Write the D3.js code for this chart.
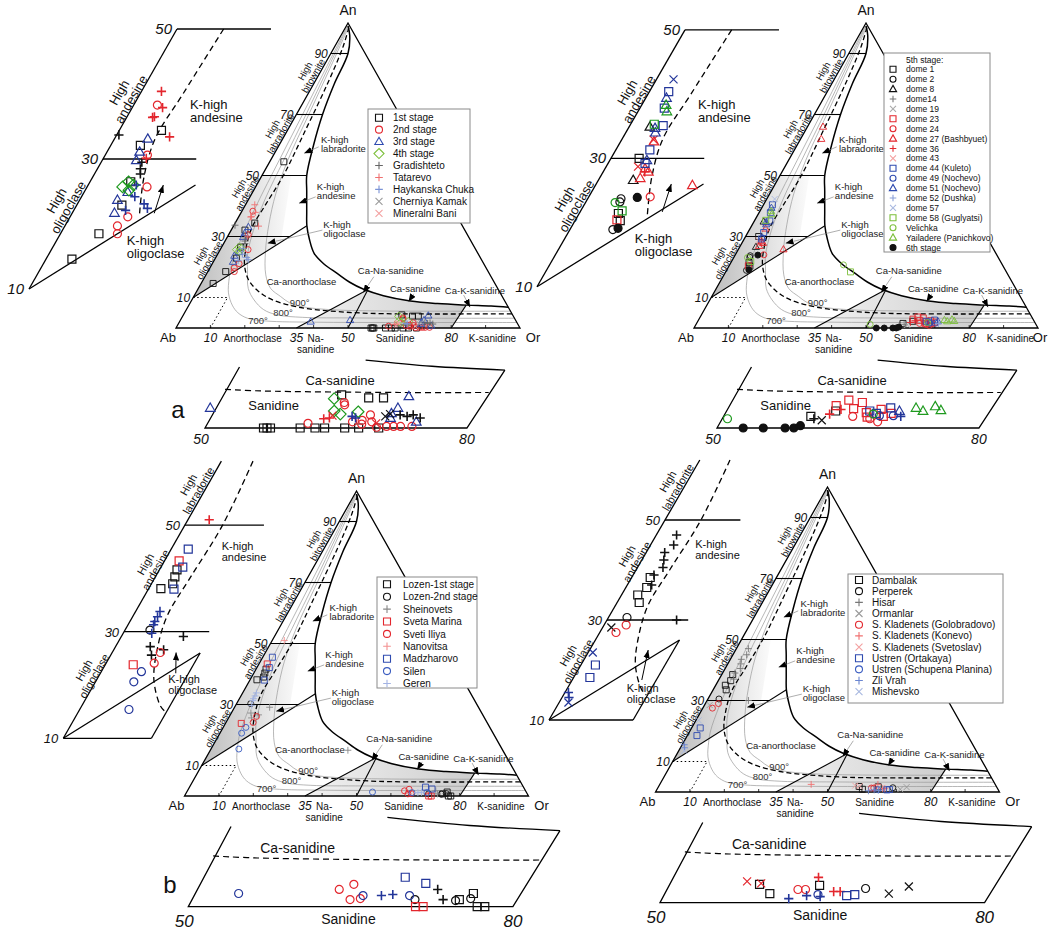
<!DOCTYPE html>
<html>
<head>
<meta charset="utf-8">
<script src="https://cdn.jsdelivr.net/npm/d3@7"></script>
<style>
  body { margin: 0; background: #fff; }
  svg text { font-family: Arial, "Liberation Sans", Helvetica, sans-serif; }
</style>
</head>
<body>
<svg id="chart" width="1048" height="930"></svg>
<script>
// all compositions are [Or, An] in mol %

// ---- diagram boundaries
var solvus = [[0.5,99],[2.5,96],[5,90],[6,80],[7.6,70],[10,60],[13,50],[15.5,45],[19,38],[21.3,33.5],[24.3,29],[27.9,24.5],[32.5,21],[37.9,17.9],[43,15],[48.2,12.7],[55,10.6],[63.7,8.85],[72,8],[80.8,7.5],[88,7.2],[93.2,6.8]];
var caLine = [[1,98.5],[2.5,92],[4,80],[5.2,65],[6.2,50],[5.8,40],[5.6,33],[7,27],[9.4,21],[13,16],[18,12],[24,9],[34,6.5],[44,5.4],[54,4.8],[70,4.6],[83,4.6],[95.4,4.6]];
var iso700 = [[0.3,99],[1,85],[1.8,70],[2.5,55],[3.3,40],[4.5,28],[6,20],[7.3,16.3],[9.5,11.5],[12.6,7.5],[15.5,5],[19.2,3.2],[25,2.3],[40,1.9],[60,1.8],[80,1.8],[98.2,1.8]];
var iso800 = [[0.5,99],[1.6,85],[2.8,70],[3.8,55],[4.8,42],[6.5,32],[8.8,24],[11.3,19],[14.5,13],[18.1,9.2],[22.5,6],[27.3,4.3],[35,3.5],[50,3.3],[70,3.2],[96.8,3.2]];
var iso900 = [[0.8,99],[2.2,85],[3.6,70],[5,55],[7,44],[10,34],[13.5,25],[17.4,17.4],[21,13],[25.3,10.3],[29,8.2],[33.7,6.9],[42,6],[55,5.6],[75,5.5],[94.5,5.5]];
var kOligLine = [[0,10],[21.3,33.5]];
var anLines = [[[0,90],[5,90]],[[0,70],[7.6,70]],[[0,50],[13,50]],[[0,30],[18.1,30]]];
var orLines = [[[35,0],[49.5,12.6]],[[50,0],[49.5,12.6]],[[80,0],[80.6,7.5]]];
var abCorner = [[0,10],[10,10],[10,0]];
var plagShade = [[0,10],[0,50],[8.5,50],[16.4,28.1]];
var sanShade = [[35,0],[49.5,12.6],[55,10.6],[63.7,8.85],[72,8],[80.6,7.5],[80,0]];
var insetSolvus = [[64,8.8],[72,8],[80.6,7.5]];
var insetCaLine = [[49.8,5.0],[54,4.8],[70,4.6],[80.2,4.6]];

// ---- tick labels and field names
var anTicks = [10,30,50,70,90];
var orTicks = [10,35,50,80];
var baseTicks = [10,20,30,40,50,60,70,80,90];
var baseNames = ["Anorthoclase","Na-|sanidine","Sanidine","K-sanidine"];
var edgeNames = ["High|oligoclase","High|andesine","High|labradorite","High|bitownite"];
var fieldNames = ["K-high|labradorite","K-high|andesine","K-high|oligoclase","Ca-anorthoclase","Ca-Na-sanidine","Ca-sanidine","Ca-K-sanidine"];
var isoNames = ["700°","800°","900°"];

// ---- panel a, left
var aLeftNames = ["1st stage","2nd stage","3rd stage","4th stage","Gradishteto","Tatarevo","Haykanska Chuka","Cherniya Kamak","Mineralni Bani"];
var aLeft1st = [[5.7,34.4],[4.0,32.1],[5.5,26.5],[6.1,22.9],[5.2,18.5],[3.5,14.6],[4.1,54.5],[56.7,0],[57.1,0],[57.5,0],[60.9,0],[62.6,0],[63.7,0],[66.0,0],[67.6,0],[69.9,0],[63.5,4.3],[66.8,3.9],[68.5,3.9]];
var aLeft2nd = [[3.2,38.3],[5.7,30.6],[8.1,25.7],[7.8,21.1],[7.1,19.7],[7.7,18.5],[61.5,0.6],[64.5,3.0],[64.3,3.3],[67.5,1.0],[68.1,1.7],[68.7,0.8],[70.7,0.2],[71.5,0.2],[72.3,0.2],[73.6,0.2],[67.7,0.5],[69.6,0.1],[66.5,0.8]];
var aLeft3rd = [[4.5,33.1],[4.4,31.1],[4.6,29.8],[5.9,24.9],[5.1,23.7],[5.7,21.7],[38.1,2.1],[49.3,2.6],[71.3,4.1],[70.4,1.9],[70.8,2.6],[73.8,0.8],[70.6,1.3]];
var aLeft4th = [[5.2,26.5],[4.8,25.7],[5.9,25.2],[6.1,26.0],[62.9,3.8],[63.7,2.2],[64.6,1.8],[66.5,2.1]];
var aLeftGrad = [[0.3,33.7],[5.5,29.5],[5.8,28.5],[6.2,27.7],[71.5,1.7],[72.4,1.5],[73.0,1.7],[74.0,1.3]];
var aLeftTat = [[2.7,40.4],[4.1,37.9],[3.7,36.5],[3.5,36.4],[7.3,33.4],[5.8,30.1],[63.0,1.2],[63.6,1.3]];
var aLeftHay = [[7.2,24.2],[7.0,22.1],[9.0,23.1],[9.8,22.4],[6.5,26.0],[66.1,1.5],[66.6,1.3]];
var aLeftChe = [[69.9,1.5],[70.3,1.8]];
var aLeftMin = [[63.8,1.6],[69.3,0.6]];

// ---- panel a, right
var aRightNames = ["dome 1","dome 2","dome 8","dome14","dome 19","dome 23","dome 24","dome 27 (Bashbyuet)","dome 36","dome 43","dome 44 (Kuleto)","dome 49 (Nochevo)","dome 51 (Nochevo)","dome 52 (Dushka)","dome 57","dome 58 (Guglyatsi)","Velichka","Yailadere (Panichkovo)","6th stage"];
var aRightD1 = [[3.8,30.0],[5.3,21.4],[6.1,20.3],[60,1.5],[62.5,2.2]];
var aRightD2 = [[4.6,23.2],[4.5,23.7],[5.8,18.9]];
var aRightD8 = [[2.8,34.9],[4.7,26.6]];
var aRightD14 = [[60.5,1.2]];
var aRightD19 = [[61.5,1.0]];
var aRightD23 = [[5.6,20.4],[62.2,2.9],[63.3,3.6],[64.4,2.5],[65.0,3.3],[66.1,2.0],[66.5,1.4],[67.6,2.4],[68.3,1.5],[69.0,1.9]];
var aRightD24 = [[8.3,24.0],[64.8,1.5],[66.9,1.2],[68.0,0.8]];
var aRightD27 = [[4.5,32.6],[5.4,28.4],[6.1,27.9],[5.5,26.9],[13.1,25.8],[4.5,66],[6,62]];
var aRightD36 = [[5.6,27.9],[62.0,1.8],[63.0,2.4]];
var aRightD43 = [[4.3,32.9],[4.3,28.7]];
var aRightD44 = [[2.6,40.4],[3.3,37.8],[4.5,35.1],[4.6,31.3],[5.0,29.2],[66.4,2.2],[67.3,1.9],[68.6,2.6]];
var aRightD49 = [[67.8,1.6],[69.4,1.6]];
var aRightD51 = [[2.8,39.4],[3.6,34.7],[4.0,34.0],[5.0,29.7],[69.8,2.2]];
var aRightD52 = [[70.3,1.5]];
var aRightD57 = [[2.3,42.3]];
var aRightD58 = [[3.2,35.3],[5.6,21.8],[36.3,18.4]];
var aRightVel = [[4.0,23.1],[33.1,20.7],[50.6,1.2],[67.0,1.8]];
var aRightYai = [[3.3,38.3],[3.9,37.3],[71.5,2.6],[72.5,2.2],[73.6,2.8],[74.5,2.3]];
var aRight6th = [[6.6,23.9],[6.4,19.1],[53,0],[55.3,0],[57.8,0],[58.8,0],[59.4,0.3]];

// ---- panel b, left
var bLeftNames = ["Lozen-1st stage","Lozen-2nd stage","Sheinovets","Sveta Marina","Sveti Iliya","Nanovitsa","Madzharovo","Silen","Geren"];
var bLeftLoz1 = [[2.9,41.6],[3.2,40.3],[3.5,39.0],[2.0,38.1],[74.7,0.7],[75.7,1.3],[76.7,0],[77.4,0]];
var bLeftLoz2 = [[4.1,30.3],[70.6,0.7],[74.4,0.6],[75.7,0.8]];
var bLeftShe = [[10.2,29.1],[5.7,27.2],[6.7,25.6],[8.2,26.6],[72.2,1.7],[73.2,0.7],[40,15]];
var bLeftMar = [[2.4,43.3],[4.6,23.8],[71.0,0],[71.7,0]];
var bLeftIli = [[7.9,26.1],[7.9,24.1],[63.1,1.7],[64.2,2.2],[64.6,0.7],[65.5,0.8]];
var bLeftNan = [[3.5,51]];
var bLeftMad = [[2.8,45.5],[3.6,42.1],[4.2,38.0],[68.6,2.9],[70.8,2.3]];
var bLeftSil = [[6.6,22.5],[6.3,20.6],[8.1,15.4],[54.0,1.3],[65.6,1.1],[69.9,1.1]];
var bLeftGer = [[4.0,33.8],[4.1,32.8],[4.1,31.9],[4.2,31.3],[4.7,29.7],[67.3,1.1],[68.3,1.2]];

// ---- panel b, right
var bRightNames = ["Dambalak","Perperek","Hisar","Ormanlar","S. Kladenets (Golobradovo)","S. Kladenets (Konevo)","S. Kladenets (Svetoslav)","Ustren (Ortakaya)","Ustren (Schupena Planina)","Zli Vrah","Mishevsko"];
var bRightDam = [[3.2,38.5],[3.6,36.5],[2.8,35],[3.8,33.5],[58.3,1.8],[59.7,0.9],[63.9,1.7]];
var bRightPer = [[3.2,30.5],[68.3,1.4]];
var bRightHis = [[3.5,47],[4.0,45],[3.2,43.5],[3.8,42],[4.4,40.5],[3.6,39],[4.2,37],[12,30]];
var bRightOrm = [[1.5,28.5],[70.7,0.9],[72.2,1.6]];
var bRightGol = [[2.8,27.5],[3.8,29],[62.1,1.3],[62.8,1.3]];
var bRightKon = [[63.4,2.5],[65.5,1.1],[66.1,1.1],[44,2.5]];
var bRightSve = [[57.0,2.1],[58.4,1.9]];
var bRightOrt = [[2.5,21],[2.8,18.5],[66.9,0.7],[67.6,0.8]];
var bRightSch = [[64.2,0.8]];
var bRightZli = [[0.6,15.5],[1.2,14.5],[61.7,0.4],[63.2,0.7],[64.5,0.6]];
var bRightMis = [[0.8,23.5],[1.6,13.5]];

// ---- layout of the four panels
var frameTop = [[[0,10],[0,50]],[[0,50],[12.7,50]],[[0,30],[12.6,30]],[[0,10],[14.5,26]]];
var dashTop = [[6.3,50],[5.8,40],[5.5,33],[7,27],[9.4,21]];
var frameLow = [[[0,10],[0,62]],[[0,50],[13,50]],[[0,30],[14,30]],[[0,10],[14.5,10]],[[14.5,10],[14.5,26]],[[0,10],[14.5,26]]];
var dashLow = [[5.2,62],[6.2,50],[5.8,40],[5.6,33],[7,27],[9.4,21],[13,16],[14.3,15]];

var panels = [
  { main: {x:176, y:328, w:344, h:305},
    left: {x:-8, w:740, y:354, h:650}, frame: frameTop, dash: dashTop, low: false,
    kaPos: [7.9,37.7], koPos: [9.8,16.8], koArrow: [[11.1,21.65],[10.15,26]],
    bottom: {x:-231.5, w:873, y:428, h:772}, caPos: [58.7,5.6], sanPos: [53.8,2.33],
    names: aLeftNames,
    data: [aLeft1st, aLeft2nd, aLeft3rd, aLeft4th, aLeftGrad, aLeftTat, aLeftHay, aLeftChe, aLeftMin],
    sym: ["square","circle","triangle","diamond","plus","plus","plus","cross","cross"],
    col: ["#111","#e3262d","#2f4bb0","#7cbf3a","#666","#f07070","#7b93d6","#9a9a9a","#f3a0a0"],
    colIn: ["#111","#e3262d","#23369a","#1f9a1f","#111","#e3262d","#23369a","#111","#e3262d"],
    legend: {x:368, y:109, w:102, h:114, row0:117.7, dy:11.95, sx:379, tx:393, fs:10, ss:7},
    tag: {t:"a", x:178, y:418} },
  { main: {x:694, y:328, w:344, h:305},
    left: {x:500, w:740, y:350.9, h:642}, frame: frameTop, dash: dashTop, low: false,
    kaPos: [7.9,37.7], koPos: [9.8,16.8], koArrow: [[11.1,21.65],[10.15,26]],
    bottom: {x:280.5, w:873, y:428, h:772}, caPos: [58.7,5.6], sanPos: [53.8,2.33],
    names: aRightNames, header: "5th stage:",
    data: [aRightD1, aRightD2, aRightD8, aRightD14, aRightD19, aRightD23, aRightD24, aRightD27, aRightD36, aRightD43, aRightD44, aRightD49, aRightD51, aRightD52, aRightD57, aRightD58, aRightVel, aRightYai, aRight6th],
    sym: ["square","circle","triangle","plus","cross","square","circle","triangle","plus","cross","square","circle","triangle","plus","cross","square","circle","triangle","dot"],
    col: ["#111","#111","#111","#777","#aaa","#e3262d","#e3262d","#e3262d","#e3262d","#f3a0a0","#2f4bb0","#2f4bb0","#2f4bb0","#8aa0d8","#a8b8e0","#7cbf3a","#7cbf3a","#7cbf3a","#111"],
    colIn: ["#111","#111","#111","#111","#111","#e3262d","#e3262d","#e3262d","#e3262d","#e3262d","#23369a","#23369a","#23369a","#23369a","#23369a","#1f9a1f","#1f9a1f","#1f9a1f","#111"],
    legend: {x:884, y:53, w:106, h:199, row0:69.3, dy:9.9, sx:893, tx:906, fs:8.5, ss:6, hy:62.5} },
  { main: {x:184.5, y:796, w:344, h:305},
    left: {x:32.9, w:608, y:791.6, h:533}, frame: frameLow, dash: dashLow, low: true,
    kaPos: [8.4,45.3], koPos: [12.1,20.3], koArrow: [[12.4,22.2],[10.5,26.1]],
    bottom: {x:-352.7, w:1082, y:906.7, h:1015}, caPos: [54,5.3],
    names: bLeftNames,
    data: [bLeftLoz1, bLeftLoz2, bLeftShe, bLeftMar, bLeftIli, bLeftNan, bLeftMad, bLeftSil, bLeftGer],
    sym: ["square","circle","plus","square","circle","plus","square","circle","plus"],
    col: ["#111","#111","#888","#e3262d","#e3262d","#f39090","#2f4bb0","#3a5cc0","#a3b3e3"],
    colIn: ["#111","#111","#111","#e3262d","#e3262d","#e3262d","#23369a","#23369a","#23369a"],
    legend: {x:377, y:577, w:100, h:111, row0:584.3, dy:12.4, sx:387, tx:403, fs:10, ss:7},
    tag: {t:"b", x:170, y:893} },
  { main: {x:655.5, y:792, w:344, h:305},
    left: {x:520, w:580, y:770, h:500}, frame: frameLow, dash: dashLow, low: true,
    kaPos: [8,44.4], koPos: [10.6,15.6], koArrow: [[12,18],[10.1,24]],
    bottom: {x:119, w:1082, y:902.7, h:1015}, caPos: [54,5.3],
    names: bRightNames,
    data: [bRightDam, bRightPer, bRightHis, bRightOrm, bRightGol, bRightKon, bRightSve, bRightOrt, bRightSch, bRightZli, bRightMis],
    sym: ["square","circle","plus","cross","circle","plus","cross","square","circle","plus","cross"],
    col: ["#111","#111","#777","#999","#e3262d","#f07070","#f3a0a0","#2f4bb0","#3a5cc0","#6a85d0","#a8b8e0"],
    colIn: ["#111","#111","#111","#111","#e3262d","#e3262d","#e3262d","#23369a","#23369a","#23369a","#23369a"],
    legend: {x:848, y:574, w:155, h:129, row0:580, dy:11.17, sx:859, tx:872, fs:10, ss:7} }
];

// ---- positions of the field labels (ternary anchors)
var fieldPos = [[11.8,60.7],[18.3,45.3],[26.4,32.8],[19.3,14.1],[44,17.7],[56.3,11.8],[72.6,11.1]];
var edgePos = [21.5,43.5,63,82];
var isoPos = [[20.4,1.2],[26.3,3.9],[29.5,7.2]];
var basePos = [22.3,40.6,63.7,92];
var arrows = [[[11.8,59.4],[8.6,57.3]],[[19.1,43],[15.3,40.9]],[[26.5,32.1],[12.7,27.8]],[[49.1,16.8],[48.6,11.6]],[[63.5,11.2],[63.3,8.6]],[[78.2,10.8],[82.1,6.8]]];

var svg = d3.select("#chart");
var defs = svg.append("defs");
var gp = defs.append("linearGradient").attr("id", "plagGrad").attr("x1", 0).attr("x2", 1).attr("y1", 0).attr("y2", 0);
gp.append("stop").attr("offset", 0).attr("stop-color", "#bdbdbd");
gp.append("stop").attr("offset", 0.6).attr("stop-color", "#e2e2e2");
gp.append("stop").attr("offset", 1).attr("stop-color", "#fbfbfb");
var gs = defs.append("linearGradient").attr("id", "sanGrad").attr("x1", 0).attr("x2", 1).attr("y1", 0).attr("y2", 0);
gs.append("stop").attr("offset", 0).attr("stop-color", "#f2f2f2");
gs.append("stop").attr("offset", 1).attr("stop-color", "#cdcdcd");
defs.append("marker").attr("id", "arr").attr("viewBox", "0 0 10 8").attr("refX", 10).attr("refY", 4)
  .attr("markerWidth", 8).attr("markerHeight", 6.5).attr("markerUnits", "userSpaceOnUse").attr("orient", "auto")
  .append("path").attr("d", "M0,0L10,4L0,8Z").attr("fill", "#000");

function makeView(v) {
  var sx = d3.scaleLinear().domain([0, 100]).range([v.x, v.x + v.w]);
  var sy = d3.scaleLinear().domain([0, 100]).range([v.y, v.y - v.h]);
  return function (d) { return [sx(d[0] + d[1] / 2), sy(d[1])]; };
}

function pathOf(pr, pts, smooth) {
  var l = d3.line().x(function (d) { return pr(d)[0]; }).y(function (d) { return pr(d)[1]; });
  if (smooth) l.curve(d3.curveCatmullRom.alpha(0.5));
  return l(pts);
}

function sym(type, s) {
  var h = s / 2;
  if (type === "square") return "M" + -h + "," + -h + "h" + s + "v" + s + "h" + -s + "Z";
  if (type === "circle" || type === "dot") return "M" + h + ",0A" + h + "," + h + " 0 1,1 " + -h + ",0A" + h + "," + h + " 0 1,1 " + h + ",0Z";
  if (type === "triangle") return "M0," + (-s * 0.62) + "L" + (s * 0.6) + "," + (s * 0.42) + "L" + (-s * 0.6) + "," + (s * 0.42) + "Z";
  if (type === "diamond") return "M0," + (-s * 0.72) + "L" + (s * 0.72) + ",0L0," + (s * 0.72) + "L" + (-s * 0.72) + ",0Z";
  if (type === "plus") return "M" + -h + ",0H" + h + "M0," + -h + "V" + h;
  return "M" + -h + "," + -h + "L" + h + "," + h + "M" + h + "," + -h + "L" + -h + "," + h;
}

function addText(g, x, y, str, o) {
  o = o || {};
  var fs = o.fs || 10, lh = o.lh || fs * 1.05;
  var lines = str.split("|");
  var t = g.append("text").attr("x", x).attr("y", y).attr("font-size", fs)
    .attr("text-anchor", o.anchor || "start").attr("fill", o.fill || "#111");
  if (o.italic) t.attr("font-style", "italic");
  if (o.rot) t.attr("transform", "rotate(" + o.rot + "," + x + "," + y + ")");
  lines.forEach(function (s, i) {
    t.append("tspan").attr("x", x).attr("dy", i ? lh : (o.center ? -(lines.length - 1) * lh / 2 + fs * 0.35 : 0)).text(s);
  });
  return t;
}

function edgeLabel(g, pr, an, off, str, fs, lh) {
  var a = pr([0, an]), b = pr([0, an + 1]);
  var dx = b[0] - a[0], dy = b[1] - a[1], n = Math.sqrt(dx * dx + dy * dy);
  var ux = dx / n, uy = dy / n;
  var cx = a[0] + off * uy, cy = a[1] - off * ux;
  addText(g, cx, cy, str, {fs: fs, lh: lh, anchor: "middle", center: true, rot: Math.atan2(uy, ux) * 180 / Math.PI});
}

function marks(g, pts, pr, type, color, s, sw) {
  g.selectAll(null).data(pts).enter().append("path")
    .attr("transform", function (d) { var p = pr(d); return "translate(" + p[0] + "," + p[1] + ")"; })
    .attr("d", sym(type, type === "plus" ? s * 1.15 : s))
    .attr("fill", type === "dot" ? color : "none")
    .attr("stroke", color).attr("stroke-width", sw);
}

function stroke(sel, w, dash) {
  sel.attr("fill", "none").attr("stroke", "#000").attr("stroke-width", w);
  if (dash) sel.attr("stroke-dasharray", dash);
  return sel;
}

function drawMain(g, P) {
  var pr = makeView(P.main);
  g.append("path").attr("d", pathOf(pr, plagShade) + "Z").attr("fill", "url(#plagGrad)");
  g.append("path").attr("d", pathOf(pr, sanShade) + "Z").attr("fill", "url(#sanGrad)");
  [iso700, iso800, iso900].forEach(function (c) {
    g.append("path").attr("d", pathOf(pr, c, true)).attr("fill", "none").attr("stroke", "#9a9a9a").attr("stroke-width", 0.7);
  });
  stroke(g.append("path").attr("d", pathOf(pr, caLine, true)), 1.3, "5,3");
  stroke(g.append("path").attr("d", pathOf(pr, abCorner)), 1, "1.5,2.5");
  anLines.concat(orLines).concat([kOligLine]).forEach(function (s) {
    stroke(g.append("path").attr("d", pathOf(pr, s)), 1.1);
  });
  stroke(g.append("path").attr("d", pathOf(pr, solvus, true)), 1.5);
  stroke(g.append("path").attr("d", pathOf(pr, [[0,0],[100,0],[0,100]]) + "Z"), 1.3).attr("stroke-linejoin", "miter");
  baseTicks.forEach(function (t) {
    var p = pr([t, 0]);
    stroke(g.append("line").attr("x1", p[0]).attr("x2", p[0]).attr("y1", p[1]).attr("y2", p[1] - 3), 0.8);
  });

  // labels
  var A = pr([0, 0]), B = pr([100, 0]), C = pr([0, 100]);
  addText(g, A[0] - 8, A[1] + 14, "Ab", {fs: 13, anchor: "middle"});
  addText(g, Math.min(B[0] + 13, 1040), B[1] + 14, "Or", {fs: 13, anchor: "middle"});
  addText(g, C[0], C[1] - 8, "An", {fs: 14, anchor: "middle"});
  anTicks.forEach(function (t) {
    var p = pr([0, t]);
    addText(g, p[0] - 3, p[1] + 4, String(t), {fs: 12, anchor: "end", italic: true});
  });
  orTicks.forEach(function (t) {
    var p = pr([t, 0]);
    addText(g, p[0], p[1] + 14, String(t), {fs: 12, anchor: "middle", italic: true});
  });
  baseNames.forEach(function (s, i) {
    var p = pr([basePos[i], 0]);
    addText(g, p[0], p[1] + 14, s, {fs: 10, anchor: "middle", lh: 10.5});
  });
  edgeNames.forEach(function (s, i) { edgeLabel(g, pr, edgePos[i], 9, s, 9.5, 9.5); });
  fieldNames.forEach(function (s, i) {
    var p = pr(fieldPos[i]);
    addText(g, p[0], p[1], s, {fs: 9.5, lh: 9.5, fill: "#222"});
  });
  isoNames.forEach(function (s, i) {
    var p = pr(isoPos[i]);
    addText(g, p[0], p[1], s, {fs: 9.5, fill: "#333"});
  });
  arrows.forEach(function (a) {
    var p = pr(a[0]), q = pr(a[1]);
    g.append("line").attr("x1", p[0]).attr("y1", p[1]).attr("x2", q[0]).attr("y2", q[1])
      .attr("stroke", "#777").attr("stroke-width", 0.6).attr("marker-end", "url(#arr)");
  });

  P.data.forEach(function (pts, i) {
    marks(g, pts, pr, P.sym[i], P.col[i], 6, 0.9);
  });
}

function drawLeft(g, P) {
  var pr = makeView(P.left);
  var big = !P.low;
  P.frame.forEach(function (s) { stroke(g.append("path").attr("d", pathOf(pr, s)), 1.3); });
  stroke(g.append("path").attr("d", pathOf(pr, P.dash, true)), 1.3, "6,4");
  var fs = big ? 13 : 11;
  edgeLabel(g, pr, big ? 38.8 : 41.3, big ? 12 : 9, "High|andesine", fs, fs * 1.05);
  edgeLabel(g, pr, big ? 22.1 : 21.3, big ? 13 : 10, "High|oligoclase", fs, fs * 1.05);
  if (!big) edgeLabel(g, pr, 56, 11, "High|labradorite", fs, fs * 1.05);
  var ka = pr(P.kaPos), ko = pr(P.koPos);
  addText(g, ka[0], ka[1], "K-high|andesine", {fs: fs, lh: fs});
  addText(g, ko[0], ko[1], "K-high|oligoclase", {fs: fs, lh: fs});
  var a0 = pr(P.koArrow[0]), a1 = pr(P.koArrow[1]);
  g.append("line").attr("x1", a0[0]).attr("y1", a0[1]).attr("x2", a1[0]).attr("y2", a1[1])
    .attr("stroke", "#000").attr("stroke-width", 1).attr("marker-end", "url(#arr)");
  [10, 30, 50].forEach(function (t) {
    var p = pr([0, t]);
    addText(g, p[0] - 5, p[1] + 5, String(t), {fs: big ? 15 : 13, anchor: "end", italic: true});
  });
  P.data.forEach(function (pts, i) {
    var sub = pts.filter(function (d) { return d[1] >= 9.5 && d[1] <= (big ? 50.5 : 60) && d[0] <= 15; });
    marks(g, sub, pr, P.sym[i], P.colIn[i], 8, P.sym[i] === "plus" ? 1.6 : 1.2);
  });
}

function drawBottom(g, P) {
  var pr = makeView(P.bottom);
  var low = P.low;
  stroke(g.append("path").attr("d", pathOf(pr, [[50, 7.9], [50, 0], [80, 0], [80.6, 7.5]])), 1.3);
  stroke(g.append("path").attr("d", pathOf(pr, insetSolvus, true)), 1.3);
  stroke(g.append("path").attr("d", pathOf(pr, insetCaLine, true)), 1.2, "6,4");
  var fs = low ? 14 : 13;
  var p1 = pr(P.caPos);
  addText(g, p1[0], p1[1], "Ca-sanidine", {fs: fs});
  if (low) {
    var p2 = pr([64.8, 0]);
    addText(g, p2[0], p2[1] + 17, "Sanidine", {fs: fs, anchor: "middle"});
  } else {
    var p3 = pr(P.sanPos);
    addText(g, p3[0], p3[1], "Sanidine", {fs: fs});
  }
  [50, 80].forEach(function (t) {
    var p = pr([t, 0]);
    addText(g, p[0] - (t === 50 ? 4 : 0), p[1] + (low ? 20 : 16), String(t), {fs: low ? 17 : 14, anchor: "middle", italic: true});
  });
  P.data.forEach(function (pts, i) {
    var sub = pts.filter(function (d) { return d[1] <= 6.5 && d[0] >= 47 && d[0] <= 81; });
    marks(g, sub, pr, P.sym[i], P.colIn[i], 8, P.sym[i] === "plus" ? 1.6 : 1.2);
  });
}

function drawLegend(g, P) {
  var L = P.legend;
  g.append("rect").attr("x", L.x).attr("y", L.y).attr("width", L.w).attr("height", L.h)
    .attr("fill", "#fff").attr("stroke", "#8a8a8a").attr("stroke-width", 1);
  if (P.header) addText(g, L.tx, L.hy, P.header, {fs: L.fs});
  P.names.forEach(function (s, i) {
    var y = L.row0 + i * L.dy;
    g.append("path").attr("transform", "translate(" + L.sx + "," + y + ")")
      .attr("d", sym(P.sym[i], P.sym[i] === "plus" ? L.ss * 1.1 : L.ss))
      .attr("fill", P.sym[i] === "dot" ? P.col[i] : "none")
      .attr("stroke", P.col[i]).attr("stroke-width", 1.1);
    addText(g, L.tx, y + L.fs * 0.36, s, {fs: L.fs});
  });
}

panels.forEach(function (P) {
  var g = svg.append("g");
  drawMain(g, P);
  drawLegend(g, P);
  drawLeft(g, P);
  drawBottom(g, P);
  if (P.tag) addText(g, P.tag.x, P.tag.y, P.tag.t, {fs: 24, anchor: "middle"});
});
</script>
</body>
</html>
